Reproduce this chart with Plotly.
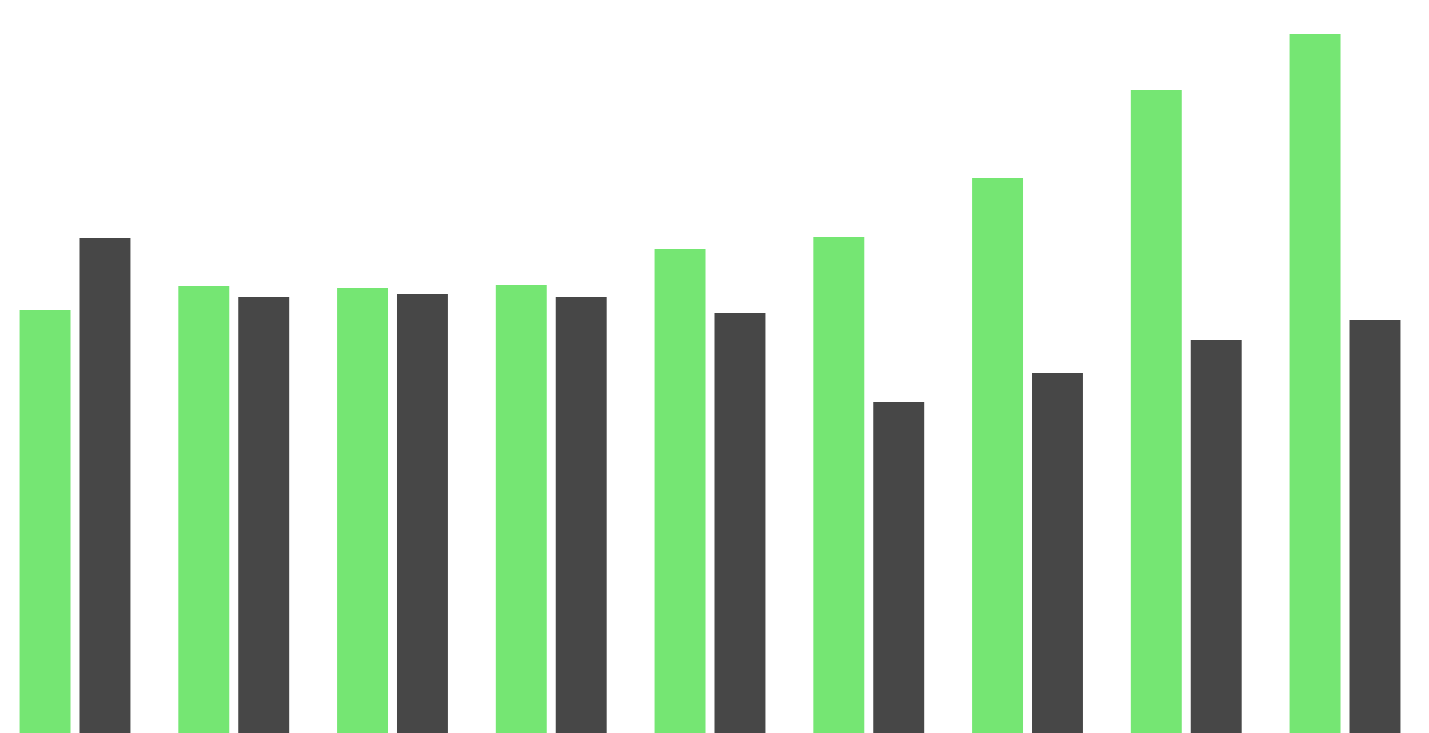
import plotly.graph_objects as go

categories = ["1", "2", "3", "4", "5", "6", "7", "8", "9"]
green_values = [423, 447, 445, 448, 484, 496, 555, 643, 699]
dark_values = [495, 436, 439, 436, 420, 331, 360, 393, 413]

fig = go.Figure()
fig.add_trace(go.Bar(x=categories, y=green_values, marker_color="#75e673",
                     marker_line_width=0, name="A"))
fig.add_trace(go.Bar(x=categories, y=dark_values, marker_color="#474747",
                     marker_line_width=0, name="B"))

# page has an 8px body margin, so the figure is a bit smaller than the window
fig.update_layout(
    width=1421, height=725,
    margin=dict(l=0, r=0, t=0, b=0),
    barmode="group",
    bargap=0.245,
    bargroupgap=0.15,
    showlegend=False,
    plot_bgcolor="white",
    paper_bgcolor="white",
)
fig.update_xaxes(visible=False, range=[-0.422, 8.529])
fig.update_yaxes(visible=False, range=[0, 725])

fig.write_html("out.html")
